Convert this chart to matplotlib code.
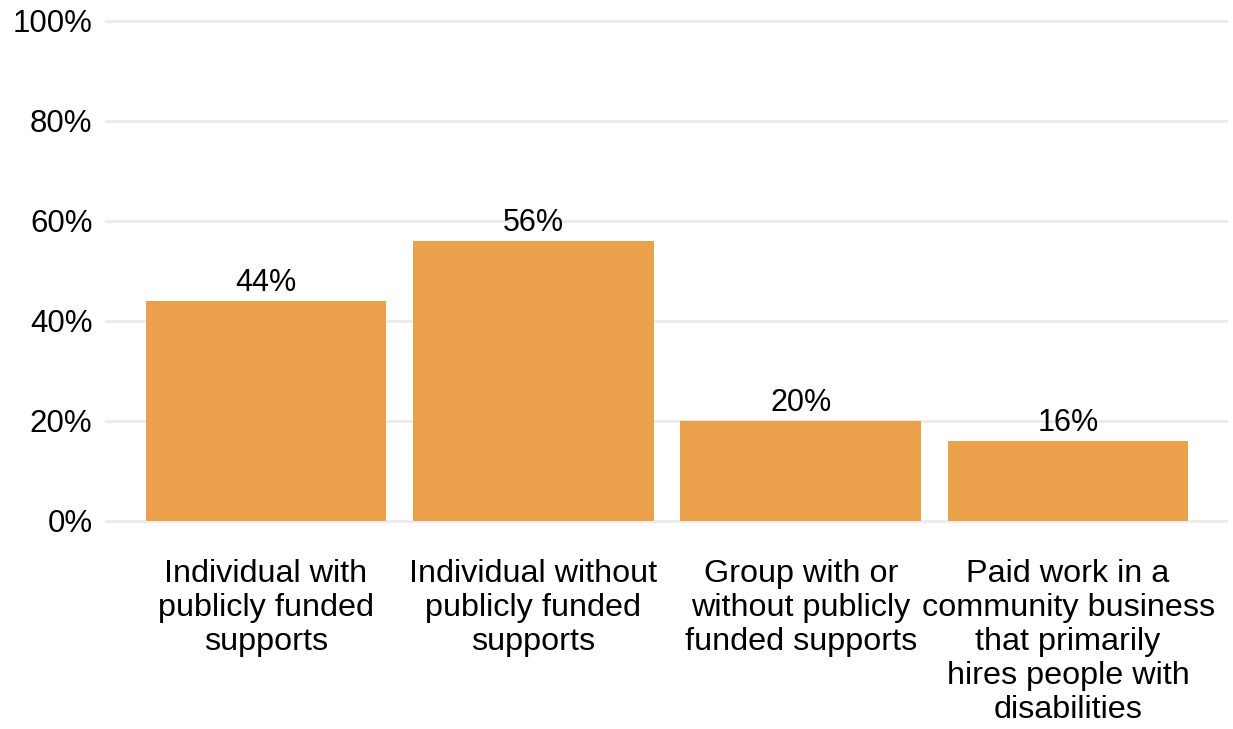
import matplotlib
matplotlib.use("Agg")
import matplotlib.pyplot as plt
import numpy as np

plt.rcParams.update({
    "font.family": ["Liberation Sans", "DejaVu Sans"],
    "font.size": 22,
})

categories = [
    "Individual with\npublicly funded\nsupports",
    "Individual without\npublicly funded\nsupports",
    "Group with or\nwithout publicly\nfunded supports",
    "Paid work in a\ncommunity business\nthat primarily\nhires people with\ndisabilities",
]
values = [44, 56, 20, 16]
yticks = [0, 20, 40, 60, 80, 100]

fig = plt.figure(figsize=(12.33, 7.29), dpi=100)
ax = fig.add_axes([105 / 1233, (729 - 526) / 729, (1228 - 105) / 1233, 510 / 729])

x = np.arange(len(categories))
ax.bar(x, values, width=0.9, color="#EBA04C", zorder=2)
for xi, v in zip(x, values):
    ax.annotate(f"{v}%", (xi, v), xytext=(0, 2), textcoords="offset points",
                ha="center", va="bottom", fontsize=22)

ax.set_xlim(-0.602, 3.598)
ax.set_ylim(-1, 101)
ax.set_yticks(yticks)
ax.set_yticklabels([f"{t}%" for t in yticks])
ax.set_xticks(x)
ax.set_xticklabels(categories, linespacing=1.17)
ax.tick_params(axis="both", length=0)
ax.tick_params(axis="y", pad=9, labelsize=22.5)
ax.tick_params(axis="x", pad=24, labelsize=23.3)
ax.grid(axis="y", color="#EBEBEB", linewidth=2, zorder=0)
for s in ax.spines.values():
    s.set_visible(False)

fig.savefig("out.png", dpi=100)
